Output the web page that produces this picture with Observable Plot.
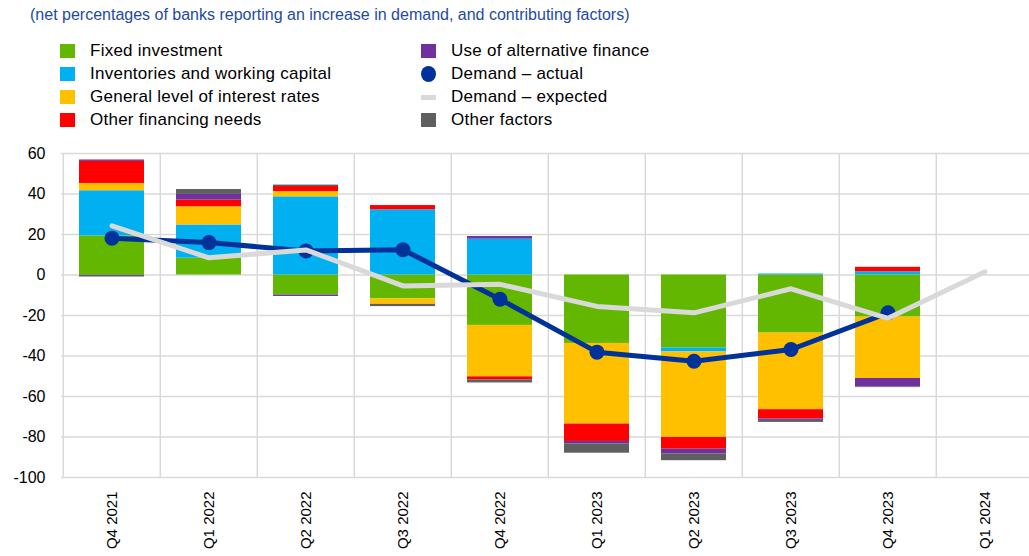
<!DOCTYPE html>
<html><head><meta charset="utf-8">
<script src="https://cdn.jsdelivr.net/npm/d3@7"></script>
<script src="https://cdn.jsdelivr.net/npm/@observablehq/plot@0.6"></script>
<style>
body{margin:0;overflow:hidden;background:#fff;font-family:"Liberation Sans",Arial,sans-serif;}
#wrap{position:relative;width:1029px;height:556px;overflow:hidden;}
#sub{position:absolute;left:30px;top:6px;font-size:16px;color:#1f4aa6;white-space:nowrap;}
.leg{position:absolute;font-size:17px;letter-spacing:0.25px;color:#000;display:flex;align-items:center;height:20px;white-space:nowrap;}
.sw{width:15px;height:14px;margin-right:15px;flex:none;}
#chart{position:absolute;left:0;top:140px;}
#chart svg{max-width:none !important;}
</style></head>
<body>
<div id="wrap">
  <div id="sub">(net percentages of banks reporting an increase in demand, and contributing factors)</div>
  <div id="legend"></div>
  <div id="chart"></div>
</div>
<script>
const quarters = ["Q4 2021","Q1 2022","Q2 2022","Q3 2022","Q4 2022","Q1 2023","Q2 2023","Q3 2023","Q4 2023","Q1 2024"];
const fixedInvestment = [19.3, 8.3, -9.9, -11.8, -24.9, -33.8, -36.0, -28.7, -20.8, null];
const inventories     = [22.3, 16.4, 38.6, 32.2, 17.7, 0, -2.0, 0.5, 1.6, null];
const interestRates   = [3.6, 9.0, 2.6, -2.7, -25.4, -39.8, -42.2, -37.8, -30.3, null];
const otherFinancing  = [10.9, 3.3, 2.5, 2.1, -1.5, -8.6, -5.8, -4.6, 2.2, null];
const alternativeFin  = [0.7, 2.8, -0.7, 0, 1.3, -1.3, -2.3, -0.7, -4.2, null];
const otherFactors    = [-1.0, 2.4, 0.7, -1.1, -1.5, -4.5, -3.4, -1.0, -0.3, null];
const demandActual    = [18.2, 16.0, 11.9, 12.5, -12.0, -38.1, -42.6, -36.8, -18.7, null];
const demandExpected  = [24.3, 8.5, 12.4, -5.4, -4.6, -15.5, -18.7, -6.8, -21.4, 1.6];
const yTicks = [60, 40, 20, 0, -20, -40, -60, -80, -100];

const seriesNames = ["Fixed investment","Inventories and working capital","General level of interest rates","Other financing needs","Use of alternative finance","Other factors"];
const seriesValues = [fixedInvestment, inventories, interestRates, otherFinancing, alternativeFin, otherFactors];
const seriesColors = ["#64b700","#00b0f0","#ffc000","#ff0000","#7030a0","#5f5f5f"];
const actualColor = "#003299", expectedColor = "#d9d9d9";

// legend
const legendItems = [
  {name: seriesNames[0], kind:"sq", color: seriesColors[0], col:0, row:0},
  {name: seriesNames[1], kind:"sq", color: seriesColors[1], col:0, row:1},
  {name: seriesNames[2], kind:"sq", color: seriesColors[2], col:0, row:2},
  {name: seriesNames[3], kind:"sq", color: seriesColors[3], col:0, row:3},
  {name: seriesNames[4], kind:"sq", color: seriesColors[4], col:1, row:0},
  {name: "Demand – actual", kind:"dot", color: actualColor, col:1, row:1},
  {name: "Demand – expected", kind:"line", color: expectedColor, col:1, row:2},
  {name: seriesNames[5], kind:"sq", color: seriesColors[5], col:1, row:3}
];
const leg = document.getElementById("legend");
legendItems.forEach(it => {
  const d = document.createElement("div");
  d.className = "leg";
  d.style.left = (it.col ? 421 : 60) + "px";
  d.style.top = (41 + it.row * 23) + "px";
  const s = document.createElement("span");
  s.className = "sw";
  if (it.kind === "sq") { s.style.background = it.color; }
  else if (it.kind === "dot") { s.style.background = it.color; s.style.borderRadius = "50%"; s.style.height="16px"; }
  else { s.style.height = "5px"; s.style.background = it.color; }
  d.appendChild(s);
  const t = document.createElement("span");
  t.textContent = it.name;
  d.appendChild(t);
  leg.appendChild(d);
});

const rows = [];
seriesValues.forEach((vals, si) => vals.forEach((v, i) => {
  if (v != null) rows.push({q: quarters[i], key: seriesNames[si], v});
}));
const actualRows = quarters.map((q, i) => ({q, v: demandActual[i]})).filter(d => d.v != null);
const expectedRows = quarters.map((q, i) => ({q, v: demandExpected[i]})).filter(d => d.v != null);

const W = 1036, ML = 61, MR = 1;
const step = (W - ML - MR) / quarters.length;

const chart = Plot.plot({
  width: W, height: 416,
  marginLeft: ML, marginRight: MR, marginTop: 13, marginBottom: 79,
  style: {fontFamily: "Liberation Sans, Arial, sans-serif", fontSize: "16px", color: "#000", background: "transparent", maxWidth: "none"},
  x: {domain: quarters, paddingInner: 0.33, paddingOuter: 0.165, label: null},
  y: {domain: [-100, 60], label: null},
  color: {domain: seriesNames, range: seriesColors},
  marks: [
    Plot.ruleY(yTicks, {stroke: "#d9d9d9", strokeWidth: 1.5}),
    Plot.ruleX(quarters, {x: d => d, dx: -step / 2, stroke: "#d9d9d9", strokeWidth: 1.5}),
    Plot.barY(rows, Plot.stackY({x: "q", y: "v", fill: "key", order: seriesNames})),
    Plot.line(actualRows, {x: "q", y: "v", stroke: actualColor, strokeWidth: 5}),
    Plot.dot(actualRows, {x: "q", y: "v", r: 7.5, fill: actualColor}),
    Plot.line(expectedRows, {x: "q", y: "v", stroke: expectedColor, strokeWidth: 5}),
    Plot.axisY({ticks: yTicks, tickSize: 0, tickPadding: 16, tickFormat: d => String(d), fontSize: 16}),
    Plot.axisX({tickRotate: -90, tickSize: 0, tickPadding: 14, fontSize: 15})
  ]
});
chart.style.maxWidth = "none";
document.getElementById("chart").appendChild(chart);
</script>
</body></html>
